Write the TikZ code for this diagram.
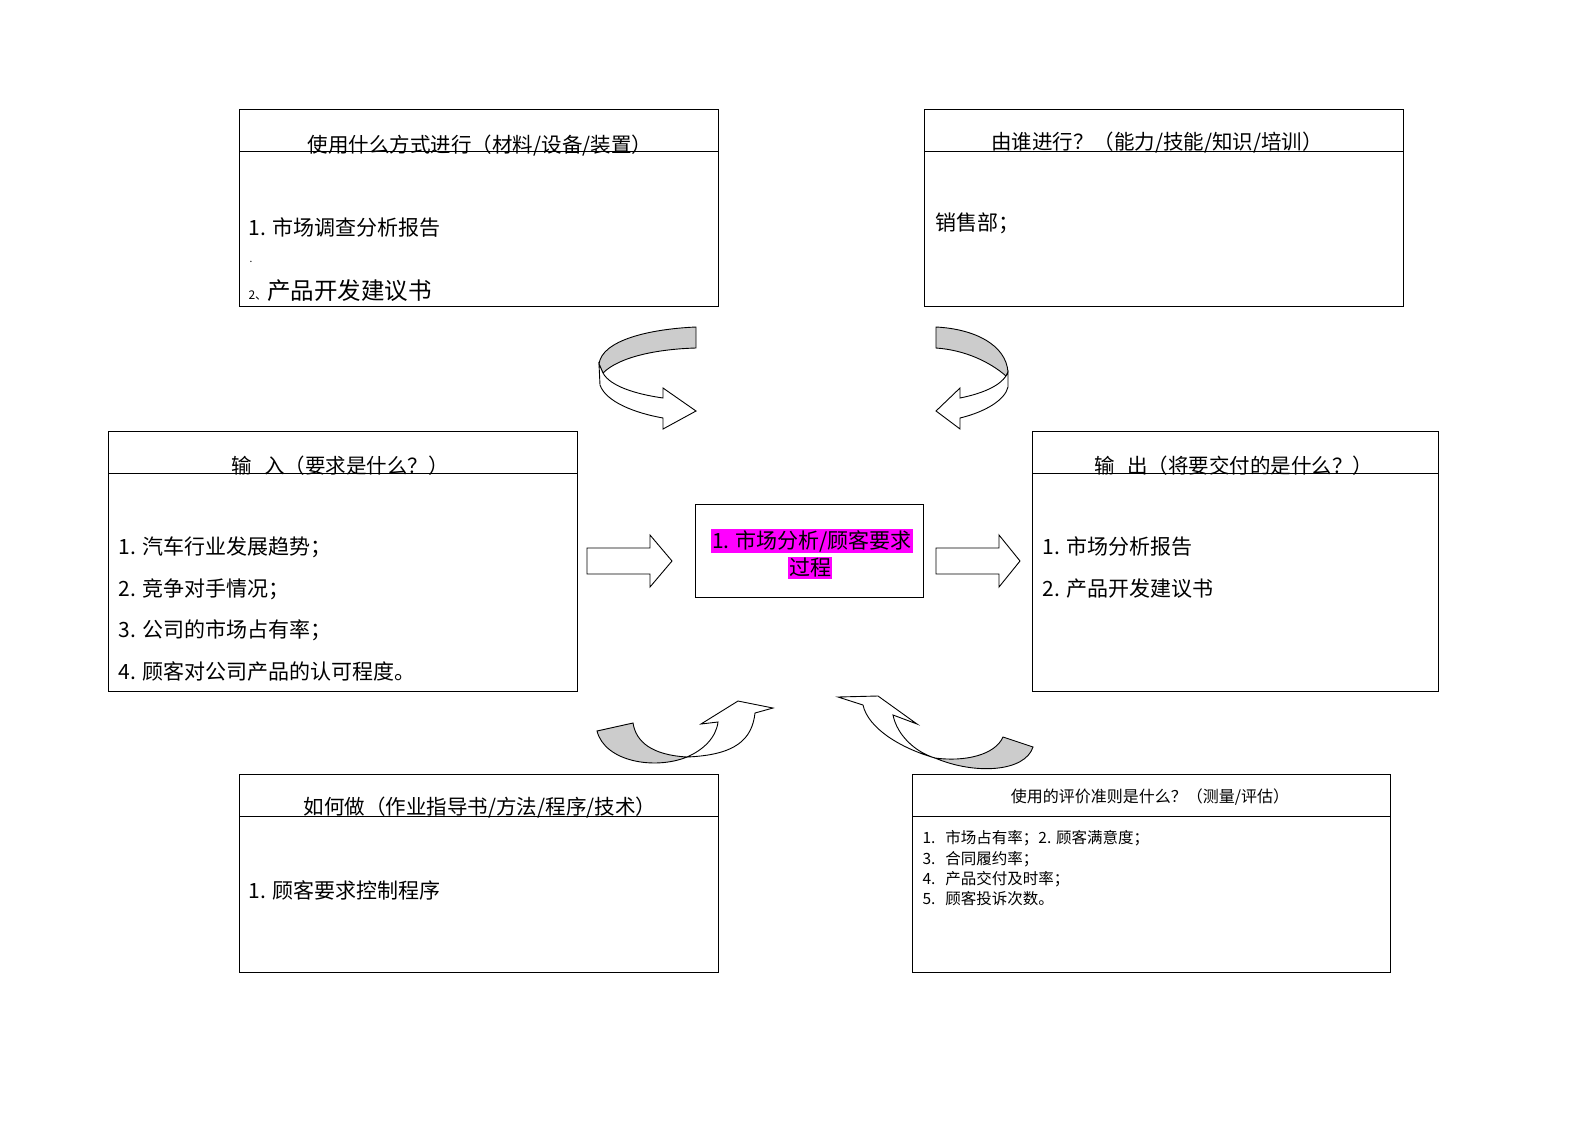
\documentclass[tikz,border=0pt]{standalone}
\usepackage{fontspec}
\setmainfont{Noto Sans CJK SC}
\usetikzlibrary{calc,positioning}
\definecolor{hlpink}{RGB}{255,0,255}
\newcommand{\hdrline}[1]{\draw ([yshift=-42pt]#1.north west) -- ([yshift=-42pt]#1.north east);}

\begin{document}
\begin{tikzpicture}[x=1pt, y=-1pt, line width=1pt,
    box/.style={draw, anchor=north west, inner sep=0pt},
    hdr/.style={inner sep=0pt, font=\fontsize{20.5}{24}\selectfont},
    txt/.style={anchor=west, inner sep=0pt, font=\fontsize{21}{25}\selectfont},
    ltxt/.style={anchor=west, inner sep=0pt, font=\fontsize{15.5}{19}\selectfont},
    hl/.style={fill=hlpink, inner sep=1pt, font=\fontsize{21}{25}\selectfont},
    blk/.style={draw, fill=white, line width=0.9pt},
    band/.style={draw, fill=gray!40, line width=0.9pt}]
    \useasboundingbox (0,0) rectangle (1587,1122);
    % boxes
    \node[box, minimum width=479, minimum height=197] (way) at (239,109) {};
    \node[box, minimum width=479, minimum height=197] (who) at (924,109) {};
    \node[box, minimum width=469, minimum height=260] (in) at (108,431) {};
    \node[box, minimum width=406, minimum height=260] (out) at (1032,431) {};
    \node[box, minimum width=228, minimum height=93] (proc) at (695,504) {};
    \node[box, minimum width=479, minimum height=198] (how) at (239,774) {};
    \node[box, minimum width=478, minimum height=198] (crit) at (912,774) {};
    \hdrline{way} \hdrline{who} \hdrline{in} \hdrline{out} \hdrline{how} \hdrline{crit}
    % titles
    \node[hdr] (wayt) at (480,146) {使用什么方式进行（材料/设备/装置）};
    \node[hdr] (whot) at (1157,143) {由谁进行？（能力/技能/知识/培训）};
    \node[hdr] (int) at (340,466) {输\hspace{0.6em}入（要求是什么？）};
    \node[hdr] (outt) at (1234,466) {输\hspace{0.6em}出（将要交付的是什么？）};
    \node[hdr] (howt) at (480,808) {如何做（作业指导书/方法/程序/技术）};
    \node[hdr, font=\fontsize{16}{19}\selectfont] (critt) at (1150,797) {使用的评价准则是什么？（测量/评估）};
    % contents
    \node[txt] (way1) at (248,228) {1. 市场调查分析报告};
    \node[txt, font=\fontsize{10}{12}\selectfont] (wayd) at (249,262) {.};
    \node[txt] (way2) at (248,291) {{\fontsize{12}{14}\selectfont 2、}{\fontsize{23.5}{27}\selectfont 产品开发建议书}};
    \node[txt] (who1) at (935,223) {销售部；};
    \node[txt] (in1) at (118,547) {1. 汽车行业发展趋势；};
    \node[txt] (in2) at (118,589) {2. 竞争对手情况；};
    \node[txt] (in3) at (118,630) {3. 公司的市场占有率；};
    \node[txt] (in4) at (118,671) {4. 顾客对公司产品的认可程度。};
    \node[txt] (out1) at (1042,547) {1. 市场分析报告};
    \node[txt] (out2) at (1042,589) {2. 产品开发建议书};
    \node[txt] (how1) at (248,890) {1. 顾客要求控制程序};
    \node[ltxt] (crit1) at (922,838) {\makebox[23pt][l]{1.}市场占有率；2. 顾客满意度；};
    \node[ltxt] (crit2) at (922,859) {\makebox[23pt][l]{3.}合同履约率；};
    \node[ltxt] (crit3) at (922,879) {\makebox[23pt][l]{4.}产品交付及时率；};
    \node[ltxt] (crit4) at (922,899) {\makebox[23pt][l]{5.}顾客投诉次数。};
    \node[hl] (proc1) at (812,541) {1. 市场分析/顾客要求};
    \node[hl] (proc2) at (810,568) {过程};
    % straight arrows
    \draw[blk] (587,548) -- (650,548) -- (650,535) -- (672,561) -- (650,587) -- (650,574) -- (587,574) -- cycle;
    \draw[blk] (936,548) -- (999,548) -- (999,535) -- (1020,561) -- (999,587) -- (999,574) -- (936,574) -- cycle;
    % curved arrows, top
    \draw[band] (696,327) .. controls (650,329) and (602,340) .. (599,364) -- (603,373) .. controls (620,356) and (660,349) .. (696,348) -- cycle;
    \draw[blk] (599,364) -- (600,385) .. controls (606,402) and (635,413) .. (663,418) -- (663,429) -- (696,411) -- (663,388) -- (663,398) .. controls (635,394) and (610,386) .. (603,373) -- cycle;
    \draw[band] (936,327) .. controls (975,329) and (1006,345) .. (1008,372) -- (1006,376) .. controls (990,362) and (965,350) .. (936,348) -- cycle;
    \draw[blk] (1008,372) -- (1008,387) .. controls (1005,400) and (985,412) .. (960,418) -- (960,429) -- (936,411) -- (960,388) -- (960,398) .. controls (985,393) and (1000,385) .. (1006,376) -- cycle;
    % curved arrows, bottom
    \draw[band] (597,731) -- (633,723) .. controls (636,742) and (652,755) .. (687,757) .. controls (655,770) and (605,762) .. (597,731) -- cycle;
    \draw[blk] (687,757) .. controls (703,750) and (716,738) .. (718,722) -- (701,724) -- (738,701) -- (773,708) -- (755,713) .. controls (752,740) and (735,755) .. (687,757) -- cycle;
    \draw[band] (1003,737) -- (1033,747) .. controls (1025,772) and (975,775) .. (935,758) .. controls (965,762) and (995,755) .. (1003,737) -- cycle;
    \draw[blk] (935,758) .. controls (900,748) and (868,728) .. (863,705) -- (838,697) -- (878,696) -- (917,724) -- (893,715) .. controls (897,735) and (915,752) .. (935,758) -- cycle;
\end{tikzpicture}
\end{document}
